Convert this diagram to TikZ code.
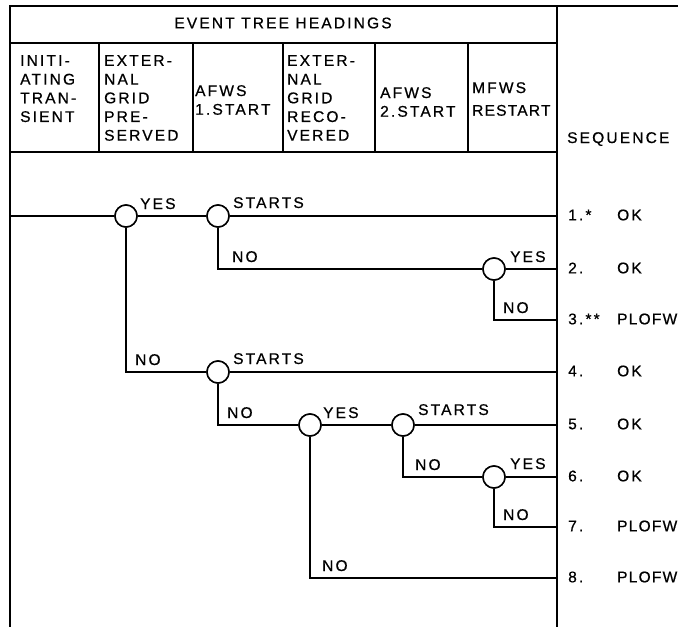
\documentclass[tikz,border=0pt]{standalone}
\usepackage{fontspec}
\setmainfont{Liberation Sans}
\newfontfamily\trk[LetterSpace=14,FakeBold=0.7]{Liberation Sans}
\newfontfamily\trknarrow[LetterSpace=8,FakeBold=0.7]{Liberation Sans}
\begin{document}
\begin{tikzpicture}[x=1pt,y=-1pt,
  font=\trk\fontsize{15.5}{18.7}\selectfont,
  grid/.style={line width=1.2pt},
  branch/.style={line width=1.8pt},
  event/.style={circle,draw,line width=1.5pt,fill=white,minimum size=22pt,inner sep=0pt},
  lab/.style={anchor=base west,inner sep=0pt},
  head/.style={anchor=north west,inner sep=0pt,align=left},
  seq/.style={anchor=west,inner sep=0pt},
  seqn/.style={seq,font=\trknarrow\fontsize{15.5}{18.7}\selectfont}]
\useasboundingbox (0,0) rectangle (678,627);
% table frame
\draw[grid] (10,627) -- (10,6) -- (678,6);
\draw[grid] (557,6) -- (557,627);
\draw[grid] (10,43) -- (557,43);
\draw[grid] (10,152) -- (557,152);
\foreach \x in {99,193,283,375,468} \draw[grid] (\x,43) -- (\x,152);
% headings
\node[inner sep=0pt] (title) at (283,23) {EVENT TREE HEADINGS};
\node[head] (h1) at (20,55) {INITI-\\ATING\\TRAN-\\SIENT};
\node[head] (h2) at (104,55) {EXTER-\\NAL\\GRID\\PRE-\\SERVED};
\node[head] (h3) at (195,85) {AFWS\\1.START};
\node[head] (h4) at (287,55) {EXTER-\\NAL\\GRID\\RECO-\\VERED};
\node[head] (h5) at (380,87) {AFWS\\2.START};
\node[head] (h6) at (472,82) {MFWS\\[4pt]{\trknarrow RESTART}};
\node[head] (h7) at (567,132) {SEQUENCE};
% tree
\coordinate (s0) at (10,216);
\node[event] (A) at (126,216) {};
\node[event] (B) at (218,216) {};
\node[event] (C) at (494,269) {};
\node[event] (D) at (218,372) {};
\node[event] (E) at (310,425) {};
\node[event] (F) at (403,425) {};
\node[event] (G) at (494,477) {};
\coordinate (e1) at (557,216);
\coordinate (e2) at (557,269);
\coordinate (e3) at (557,320);
\coordinate (e4) at (557,372);
\coordinate (e5) at (557,425);
\coordinate (e6) at (557,477);
\coordinate (e7) at (557,527);
\coordinate (e8) at (557,578);
\begin{scope}[branch]
\draw (s0) -- (A);
\draw (A) -- (B);
\draw (B) -- (e1);
\draw (B) |- (C);
\draw (C) -- (e2);
\draw (C) |- (e3);
\draw (A) |- (D);
\draw (D) -- (e4);
\draw (D) |- (E);
\draw (E) -- (F);
\draw (F) -- (e5);
\draw (F) |- (G);
\draw (G) -- (e6);
\draw (G) |- (e7);
\draw (E) |- (e8);
\end{scope}
% redraw circles on top
\foreach \n in {A,B,C,D,E,F,G} \node[event] at (\n) {};
% branch labels
\node[lab] (yA) at (140,209) {YES};
\node[lab] (sB) at (233,208) {STARTS};
\node[lab] (nB) at (232,262) {NO};
\node[lab] (yC) at (510,262) {YES};
\node[lab] (nC) at (503,313) {NO};
\node[lab] (nA) at (135,365) {NO};
\node[lab] (sD) at (233,364) {STARTS};
\node[lab] (nD) at (227,418) {NO};
\node[lab] (yE) at (323,418) {YES};
\node[lab] (sF) at (418,415) {STARTS};
\node[lab] (nF) at (415,470) {NO};
\node[lab] (yG) at (510,469) {YES};
\node[lab] (nG) at (503,520) {NO};
\node[lab] (nE) at (322,571) {NO};
% sequences
\node[seq] (q1) at (568,215) {1.*};
\node[seq] (q2) at (568,268) {2.};
\node[seq] (q3) at (568,319) {3.**};
\node[seq] (q4) at (568,371) {4.};
\node[seq] (q5) at (568,424) {5.};
\node[seq] (q6) at (568,476) {6.};
\node[seq] (q7) at (568,526) {7.};
\node[seq] (q8) at (568,577) {8.};
\node[seq] (r1) at (617,215) {OK};
\node[seq] (r2) at (617,268) {OK};
\node[seqn] (r3) at (617,319) {PLOFW};
\node[seq] (r4) at (617,371) {OK};
\node[seq] (r5) at (617,424) {OK};
\node[seq] (r6) at (617,476) {OK};
\node[seqn] (r7) at (617,526) {PLOFW};
\node[seqn] (r8) at (617,577) {PLOFW};
\end{tikzpicture}
\end{document}
